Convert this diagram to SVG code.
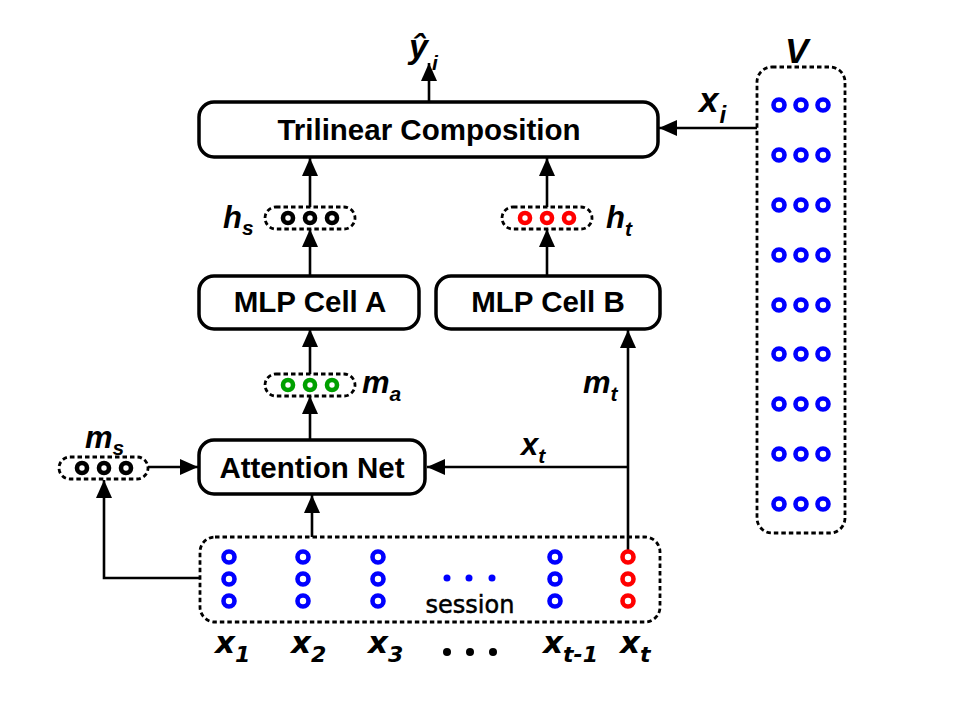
<svg xmlns="http://www.w3.org/2000/svg" width="969" height="701" viewBox="0 0 969 701">
<defs>
<marker id="ah" markerUnits="userSpaceOnUse" markerWidth="19" markerHeight="16" refX="18" refY="8" orient="auto">
<path d="M0,0 L18,8 L0,16 z" fill="#000"/>
</marker>
<style>
.box{fill:#fff;stroke:#000;stroke-width:3.5}
.dash{fill:none;stroke:#000;stroke-width:2.8;stroke-dasharray:4.5 3}
.lbl{font-family:"Liberation Sans",Arial,sans-serif;font-weight:bold;font-size:29.5px;text-anchor:middle}
.var{font-family:"Liberation Sans",Arial,sans-serif;font-weight:bold;font-style:italic;font-size:31px}
.big{font-size:35px}
.sub{font-size:21px}
.vx{font-family:"DejaVu Sans",Verdana,sans-serif;font-weight:bold;font-style:italic;font-size:31px}
.vsub{font-size:22px}
.c{fill:none;stroke-width:4.6}
.b{stroke:#0000ff}.r{stroke:#ff0000}.g{stroke:#00a000}.k{stroke:#000}
.conn{fill:none;stroke:#000;stroke-width:2.6}
</style>
</defs>
<rect width="969" height="701" fill="#fff"/>
<g id="connectors">
<line class="conn" x1="429" y1="102" x2="429" y2="63" marker-end="url(#ah)"/>
<line class="conn" x1="310" y1="207" x2="310" y2="158" marker-end="url(#ah)"/>
<line class="conn" x1="310" y1="276" x2="310" y2="229" marker-end="url(#ah)"/>
<line class="conn" x1="310" y1="374" x2="310" y2="329" marker-end="url(#ah)"/>
<line class="conn" x1="310" y1="440" x2="310" y2="396" marker-end="url(#ah)"/>
<line class="conn" x1="312" y1="537" x2="312" y2="495" marker-end="url(#ah)"/>
<line class="conn" x1="547" y1="207" x2="547" y2="158" marker-end="url(#ah)"/>
<line class="conn" x1="547" y1="276" x2="547" y2="229" marker-end="url(#ah)"/>
<line class="conn" x1="628" y1="551" x2="628" y2="330" marker-end="url(#ah)"/>
<line class="conn" x1="629" y1="467" x2="427" y2="467" marker-end="url(#ah)"/>
<line class="conn" x1="148" y1="467" x2="198" y2="467" marker-end="url(#ah)"/>
<polyline class="conn" points="200,578 104,578 104,480" marker-end="url(#ah)"/>
<line class="conn" x1="757" y1="128" x2="659" y2="128" marker-end="url(#ah)"/>
</g>
<g id="trilinear">
<rect class="box" x="199" y="102" width="459" height="55" rx="15"/>
<text class="lbl" x="429" y="140">Trilinear Composition</text>
</g>
<g id="mlpA">
<rect class="box" x="199" y="276" width="220" height="53" rx="15"/>
<text class="lbl" x="310" y="312">MLP Cell A</text>
</g>
<g id="mlpB">
<rect class="box" x="436" y="276" width="224" height="53" rx="15"/>
<text class="lbl" x="548" y="312">MLP Cell B</text>
</g>
<g id="attention">
<rect class="box" x="199" y="440" width="226" height="54" rx="15"/>
<text class="lbl" x="312" y="478">Attention Net</text>
</g>
<g id="hs">
<rect class="dash" x="265" y="207" width="90" height="22" rx="11"/>
<circle class="c k" cx="288" cy="218" r="5"/><circle class="c k" cx="310" cy="218" r="5"/><circle class="c k" cx="332" cy="218" r="5"/>
<text class="var" x="223" y="228">h<tspan class="sub" dy="7">s</tspan></text>
</g>
<g id="ht">
<rect class="dash" x="502" y="207" width="90" height="22" rx="11"/>
<circle class="c r" cx="525" cy="218" r="5"/><circle class="c r" cx="547" cy="218" r="5"/><circle class="c r" cx="569" cy="218" r="5"/>
<text class="var" x="606" y="228">h<tspan class="sub" dy="8">t</tspan></text>
</g>
<g id="ma">
<rect class="dash" x="265" y="374" width="90" height="22" rx="11"/>
<circle class="c g" cx="288" cy="385" r="5"/><circle class="c g" cx="310" cy="385" r="5"/><circle class="c g" cx="332" cy="385" r="5"/>
<text class="var" x="362" y="393">m<tspan class="sub" dy="8">a</tspan></text>
</g>
<g id="ms">
<rect class="dash" x="59" y="457" width="89" height="22" rx="11"/>
<circle class="c k" cx="82" cy="468" r="5"/><circle class="c k" cx="104" cy="468" r="5"/><circle class="c k" cx="126" cy="468" r="5"/>
<text class="var" x="85" y="448">m<tspan class="sub" dy="7">s</tspan></text>
</g>
<g id="labels">
<text class="var" x="409" y="58" style="font-size:34px">ŷ<tspan class="sub" dx="4" dy="12">i</tspan></text>
<text class="var big" x="699" y="112">x<tspan style="font-size:24px" dx="1" dy="11">i</tspan></text>
<text class="var" x="521" y="455">x<tspan class="sub" dy="8">t</tspan></text>
<text class="var" x="583" y="393">m<tspan class="sub" dy="8">t</tspan></text>
<text class="var big" x="785" y="63">V</text>
</g>
<g id="session">
<rect class="dash" x="200" y="537" width="460" height="85" rx="15"/>
<g class="c b">
<circle cx="229" cy="557" r="5.5"/><circle cx="229" cy="579" r="5.5"/><circle cx="229" cy="601" r="5.5"/>
<circle cx="303" cy="557" r="5.5"/><circle cx="303" cy="579" r="5.5"/><circle cx="303" cy="601" r="5.5"/>
<circle cx="378" cy="557" r="5.5"/><circle cx="378" cy="579" r="5.5"/><circle cx="378" cy="601" r="5.5"/>
<circle cx="555" cy="557" r="5.5"/><circle cx="555" cy="579" r="5.5"/><circle cx="555" cy="601" r="5.5"/>
</g>
<g class="c r">
<circle cx="628" cy="557" r="5.5"/><circle cx="628" cy="579" r="5.5"/><circle cx="628" cy="601" r="5.5"/>
</g>
<circle cx="447" cy="578" r="3.5" fill="#0000ff"/><circle cx="469" cy="578" r="3.5" fill="#0000ff"/><circle cx="492" cy="578" r="3.5" fill="#0000ff"/>
<text x="470" y="613" style="font-family:'DejaVu Sans',Verdana,sans-serif;font-size:24px;text-anchor:middle;stroke:#000;stroke-width:0.5">session</text>
</g>
<g id="xlabels">
<text class="vx" x="215" y="653">x<tspan class="vsub" dy="9">1</tspan></text>
<text class="vx" x="291" y="653">x<tspan class="vsub" dy="9">2</tspan></text>
<text class="vx" x="368" y="653">x<tspan class="vsub" dy="9">3</tspan></text>
<circle cx="447" cy="652" r="4" fill="#000"/><circle cx="470" cy="652" r="4" fill="#000"/><circle cx="493" cy="652" r="4" fill="#000"/>
<text class="vx" x="543" y="653">x<tspan class="vsub" dy="9">t-1</tspan></text>
<text class="vx" x="620" y="653">x<tspan class="vsub" dy="9">t</tspan></text>
</g>
<g id="V">
<rect class="dash" x="757" y="67" width="88" height="466" rx="15"/>
<g class="c b">
<circle cx="779" cy="105" r="5.5"/><circle cx="801" cy="105" r="5.5"/><circle cx="823" cy="105" r="5.5"/>
<circle cx="779" cy="155" r="5.5"/><circle cx="801" cy="155" r="5.5"/><circle cx="823" cy="155" r="5.5"/>
<circle cx="779" cy="205" r="5.5"/><circle cx="801" cy="205" r="5.5"/><circle cx="823" cy="205" r="5.5"/>
<circle cx="779" cy="255" r="5.5"/><circle cx="801" cy="255" r="5.5"/><circle cx="823" cy="255" r="5.5"/>
<circle cx="779" cy="305" r="5.5"/><circle cx="801" cy="305" r="5.5"/><circle cx="823" cy="305" r="5.5"/>
<circle cx="779" cy="354" r="5.5"/><circle cx="801" cy="354" r="5.5"/><circle cx="823" cy="354" r="5.5"/>
<circle cx="779" cy="404" r="5.5"/><circle cx="801" cy="404" r="5.5"/><circle cx="823" cy="404" r="5.5"/>
<circle cx="779" cy="454" r="5.5"/><circle cx="801" cy="454" r="5.5"/><circle cx="823" cy="454" r="5.5"/>
<circle cx="779" cy="504" r="5.5"/><circle cx="801" cy="504" r="5.5"/><circle cx="823" cy="504" r="5.5"/>
</g>
</g>
</svg>
